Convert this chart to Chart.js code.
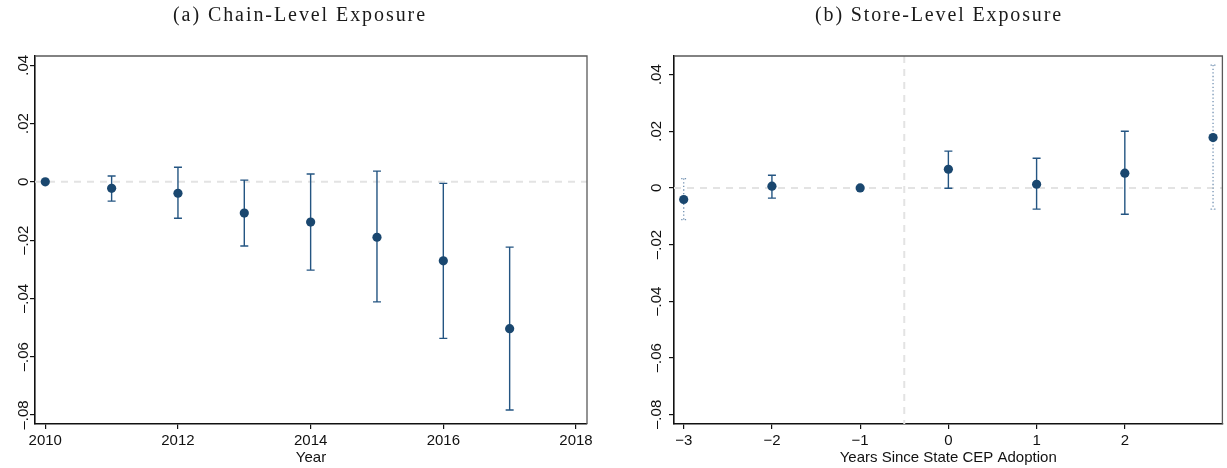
<!DOCTYPE html>
<html>
<head>
<meta charset="utf-8">
<script src="https://cdn.jsdelivr.net/npm/chart.js@4/dist/chart.umd.min.js"></script>
<style>
  html, body { margin: 0; padding: 0; background: #fff; }
  #wrap { position: relative; width: 1227px; height: 468px; }
  .panel { position: absolute; top: 0; }
</style>
</head>
<body>
<div id="wrap">
  <div class="panel" style="left:0"><canvas id="chain" width="613" height="468"></canvas></div>
  <div class="panel" style="left:613px"><canvas id="store" width="614" height="468"></canvas></div>
</div>
<script>
// (a) Chain-level exposure: event-study coefficients by year, 95% CI
const chainYears = [2010, 2011, 2012, 2013, 2014, 2015, 2016, 2017];
const chainCoef  = [0, -0.0022, -0.0039, -0.0107, -0.0138, -0.0190, -0.0271, -0.0504];
const chainLow   = [null, -0.0066, -0.0125, -0.0220, -0.0303, -0.0412, -0.0537, -0.0783];
const chainHigh  = [null, 0.0020, 0.0050, 0.0006, 0.0027, 0.0037, -0.0005, -0.0224];
const chainXTicks = [2010, 2012, 2014, 2016, 2018];

// (b) Store-level exposure: coefficients by years since state CEP adoption
const storeYears = [-3, -2, -1, 0, 1, 2, 3];
const storeCoef  = [-0.0041, 0.0006, 0, 0.0066, 0.0013, 0.0052, 0.0178];
const storeLow   = [-0.0112, -0.0036, null, -0.0001, -0.0075, -0.0093, -0.0075];
const storeHigh  = [0.0033, 0.0045, null, 0.0130, 0.0105, 0.0200, 0.0434];
// end bins (<= -3 and >= 3) are shown with dotted intervals
const storeEndBin = [true, false, false, false, false, false, true];
const storeXTicks = [-3, -2, -1, 0, 1, 2];

const yTicks = [-0.08, -0.06, -0.04, -0.02, 0, 0.02, 0.04];

const NAVY = '#1a476f';
const SANS = '"Liberation Sans", Arial, Helvetica, sans-serif';
const SERIF = '"Liberation Serif", "Times New Roman", serif';

function fmtY(v) {
  if (Math.abs(v) < 1e-9) return '0';
  const s = Math.abs(v).toFixed(2).replace(/^0/, '');
  return (v < 0 ? '\u2013' : '') + s;
}
function fmtX(v) {
  return v < 0 ? '\u2212' + Math.abs(v) : String(v);
}

const decor = {
  id: 'decor',
  beforeDatasetsDraw(chart, args, opts) {
    const { ctx, chartArea: a, scales: { x, y } } = chart;
    ctx.save();
    // reference lines
    ctx.strokeStyle = '#e3e3e3';
    ctx.lineWidth = 2;
    ctx.setLineDash([7, 6]);
    const y0 = y.getPixelForValue(0);
    ctx.beginPath(); ctx.moveTo(a.left, y0); ctx.lineTo(a.right, y0); ctx.stroke();
    if (opts.vline !== undefined) {
      const xv = x.getPixelForValue(opts.vline);
      ctx.beginPath(); ctx.moveTo(xv, a.top); ctx.lineTo(xv, a.bottom); ctx.stroke();
    }
    // confidence intervals
    opts.xs.forEach((xv, i) => {
      const lo = opts.low[i], hi = opts.high[i];
      if (lo === null || hi === null) return;
      const px = x.getPixelForValue(xv);
      const pLo = y.getPixelForValue(lo), pHi = y.getPixelForValue(hi);
      const dotted = opts.dotted && opts.dotted[i];
      ctx.beginPath();
      if (dotted) {
        ctx.strokeStyle = '#7392b2';
        ctx.lineWidth = 1.3;
        ctx.setLineDash([1.3, 2.3]);
        ctx.moveTo(px, pHi); ctx.lineTo(px, pLo);
        ctx.moveTo(px - 2.5, pHi); ctx.lineTo(px + 2.5, pHi);
        ctx.moveTo(px - 2.5, pLo); ctx.lineTo(px + 2.5, pLo);
      } else {
        ctx.strokeStyle = '#245582';
        ctx.lineWidth = 1.4;
        ctx.setLineDash([]);
        ctx.moveTo(px, pHi); ctx.lineTo(px, pLo);
        ctx.moveTo(px - 4, pHi); ctx.lineTo(px + 4, pHi);
        ctx.moveTo(px - 4, pLo); ctx.lineTo(px + 4, pLo);
      }
      ctx.stroke();
    });
    ctx.restore();
  },
  afterDraw(chart, args, opts) {
    const { ctx, chartArea: a, scales: { y } } = chart;
    ctx.save();
    // plot region outline (top and right)
    ctx.strokeStyle = '#5a5a5a';
    ctx.lineWidth = 1.3;
    ctx.beginPath();
    ctx.moveTo(a.left, a.top); ctx.lineTo(a.right, a.top); ctx.lineTo(a.right, a.bottom);
    ctx.stroke();
    // vertical y tick labels
    ctx.fillStyle = '#111';
    ctx.font = '15px ' + SANS;
    ctx.textAlign = 'center';
    ctx.textBaseline = 'alphabetic';
    y.ticks.forEach(t => {
      const py = y.getPixelForValue(t.value);
      ctx.save();
      ctx.translate(a.left - opts.labelGap, py);
      ctx.rotate(-Math.PI / 2);
      ctx.fillText(fmtY(t.value), 0, 0);
      ctx.restore();
    });
    // panel title
    ctx.font = '20px ' + SERIF;
    ctx.fillStyle = '#1a1a1a';
    ctx.textAlign = 'left';
    const raw = ctx.measureText(opts.title).width;
    const n = [...opts.title].length;
    const gap = Math.max(0, (opts.titleWidth - raw) / n);
    if ('letterSpacing' in ctx) ctx.letterSpacing = gap.toFixed(2) + 'px';
    ctx.fillText(opts.title, opts.titleX - opts.titleWidth / 2, 21);
    ctx.restore();
  }
};

function makePanel(id, p) {
  const pts = p.xs.map((xv, i) => ({ x: xv, y: p.coef[i] }));
  const tickGrid = { display: true, drawOnChartArea: false, drawTicks: true, tickLength: 5, color: '#111', lineWidth: 1.2 };
  const axisBorder = { display: true, color: '#111', width: 1.6 };
  return new Chart(document.getElementById(id), {
    type: 'scatter',
    data: {
      datasets: [{
        data: pts,
        pointRadius: 4.6,
        pointHoverRadius: 4.6,
        backgroundColor: NAVY,
        borderWidth: 0,
        showLine: false
      }]
    },
    options: {
      responsive: false,
      animation: false,
      events: [],
      layout: { padding: { top: 56, right: p.padRight, left: 0, bottom: 0 } },
      plugins: {
        legend: { display: false },
        tooltip: { enabled: false },
        decor: {
          xs: p.xs, low: p.low, high: p.high, dotted: p.dotted, vline: p.vline,
          labelGap: p.labelGap, title: p.title, titleX: p.titleX, titleWidth: p.titleWidth
        }
      },
      scales: {
        x: {
          type: 'linear',
          min: p.xMin, max: p.xMax,
          afterBuildTicks: s => { s.ticks = p.xTicks.map(v => ({ value: v })); },
          afterFit: s => { s.height = 44; },
          ticks: { padding: 3, color: '#111', maxRotation: 0, autoSkip: false,
                   font: { family: SANS, size: 15 }, callback: v => fmtX(v) },
          grid: tickGrid,
          border: axisBorder,
          title: { display: true, text: p.xTitle, color: '#111',
                   font: { family: SANS, size: 15 }, padding: { top: 0, bottom: 1.5 } }
        },
        y: {
          type: 'linear',
          min: p.yMin, max: p.yMax,
          afterBuildTicks: s => { s.ticks = yTicks.map(v => ({ value: v })); },
          afterFit: s => { s.width = p.yWidth; },
          ticks: { display: false },
          grid: tickGrid,
          border: axisBorder
        }
      }
    },
    plugins: [decor]
  });
}

makePanel('chain', {
  xs: chainYears, coef: chainCoef, low: chainLow, high: chainHigh, dotted: null,
  xTicks: chainXTicks, xMin: 2009.845, xMax: 2018.166,
  yMin: -0.0831, yMax: 0.0432,
  yWidth: 35, padRight: 26, labelGap: 7,
  xTitle: 'Year',
  title: '(a) Chain-Level Exposure', titleX: 300, titleWidth: 254
});

makePanel('store', {
  xs: storeYears, coef: storeCoef, low: storeLow, high: storeHigh, dotted: storeEndBin,
  xTicks: storeXTicks, xMin: -3.11, xMax: 3.106, vline: -0.5,
  yMin: -0.0834, yMax: 0.0466,
  yWidth: 61, padRight: 3, labelGap: 13,
  xTitle: 'Years Since State CEP Adoption',
  title: '(b) Store-Level Exposure', titleX: 326, titleWidth: 248
});
</script>
</body>
</html>
